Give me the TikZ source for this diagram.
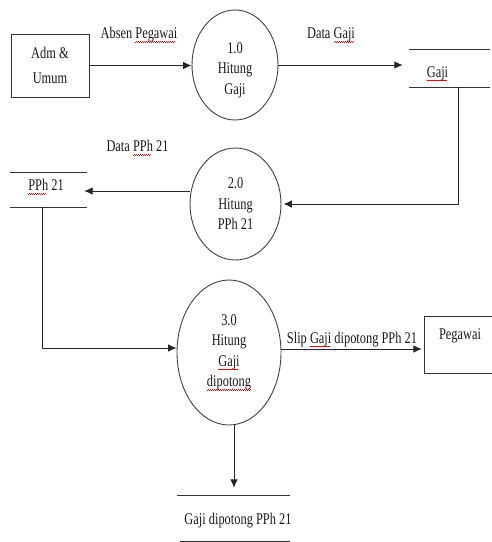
\documentclass[tikz,border=0pt]{standalone}
\usepackage{fontspec}
\setmainfont{Liberation Serif}[FakeStretch=0.76]
\usetikzlibrary{shapes.geometric,arrows.meta}
\newsavebox\splbox
\newcommand\spl[1]{\sbox\splbox{#1}\leavevmode\rlap{\raisebox{-3.6pt}{\color{red}\leaders\hbox{\rule{1pt}{0.55pt}\raisebox{0.75pt}{\rule{1pt}{0.55pt}}}\hskip\wd\splbox}}#1}
\begin{document}
\begin{tikzpicture}[x=1pt,y=-1pt,
  txt/.style={font=\fontsize{16.3}{20.5}\selectfont, text=black!90},
  lbl/.style={txt, inner sep=0pt},
  proc/.style={ellipse, draw=black!75, line width=0.9pt, align=center, inner sep=0pt, txt},
  ent/.style={rectangle, draw=black!80, line width=0.9pt, align=center, inner sep=0pt, txt},
  store/.style={rectangle, inner sep=0pt},
  sline/.style={draw=black!80, line width=0.9pt},
  arr/.style={draw=black!85, line width=0.9pt, -{Latex[length=8.5pt,width=7.5pt]}}
]
\useasboundingbox (0,0) rectangle (492,542);

% entities
\node[ent, minimum width=78pt, minimum height=63pt] (adm) at (50,65.5) {Adm \&\\[4pt]Umum};
\node[store, minimum width=70pt, minimum height=56pt,
  label={[lbl,anchor=center,yshift=-19pt]north:Pegawai}] (peg) at (460,345) {};
\draw[sline] (peg.north east) -- (peg.north west) -- (peg.south west) -- (peg.south east);

% processes
\node[proc, minimum width=86pt, minimum height=110pt] (p1) at (235,65) {\rule{0pt}{21pt}1.0\\Hitung\\Gaji};
\node[proc, minimum width=91pt, minimum height=112pt] (p2) at (235.5,204) {2.0\\Hitung\\PPh 21};
\node[proc, minimum width=104pt, minimum height=145pt] (p3) at (229,352.5) {3.0\\Hitung\\\spl{Gaji}\\\spl{dipotong}};

% data stores
\node[store, minimum width=81pt, minimum height=37pt,
  label={[lbl,anchor=center,xshift=-12pt,yshift=-24pt]north:\spl{Gaji}}] (gaji) at (449.5,68.5) {};
\draw[sline] (gaji.north west) -- (gaji.north east);
\draw[sline] (gaji.south west) -- (gaji.south east);

\node[store, minimum width=77pt, minimum height=34pt,
  label={[lbl,anchor=center,xshift=-2.5pt,yshift=-14pt]north:\spl{PPh} 21}] (pph) at (48.5,190) {};
\draw[sline] (pph.north west) -- (pph.north east);
\draw[sline] (pph.south west) -- (pph.south east);

\node[store, minimum width=113pt, minimum height=45pt,
  label={[lbl,anchor=center,xshift=4.5pt,yshift=-25pt]north:Gaji dipotong PPh 21}] (bot) at (233.5,518.5) {};
\draw[sline] (bot.north west) -- (bot.north east);
\draw[sline] ([xshift=3pt]bot.south west) -- (bot.south east);

% flow labels
\node[lbl] (l1) at (139,35) {Absen \spl{Pegawai}};
\node[lbl] (l2) at (331,35) {Data \spl{Gaji}};
\node[lbl] (l3) at (137.5,148) {Data \spl{PPh} 21};
\node[lbl] (l4) at (352,339.5) {Slip \spl{Gaji} dipotong PPh 21};

% flows
\draw[arr] (adm.east) -- (adm.east -| p1.west);
\draw[arr, shorten >=6pt] (p1.east) -- (p1.east -| gaji.west);
\draw[arr] ([xshift=8.5pt]gaji.south) |- ([xshift=2pt]p2.east);
\draw[arr, shorten >=-3pt] ([yshift=13pt]p2.west) -- ([yshift=13pt]p2.west -| pph.east);
\draw[arr] ([xshift=-6.5pt]pph.south) |- ([yshift=4.5pt]p3.west);
\draw[arr, shorten >=3pt] ([yshift=3.5pt]p3.east) -- ([yshift=3.5pt]p3.east -| peg.west);
\draw[arr, shorten >=8pt] ([xshift=5pt]p3.south) -- ([xshift=5pt]p3.south |- bot.north);
\end{tikzpicture}
\end{document}
